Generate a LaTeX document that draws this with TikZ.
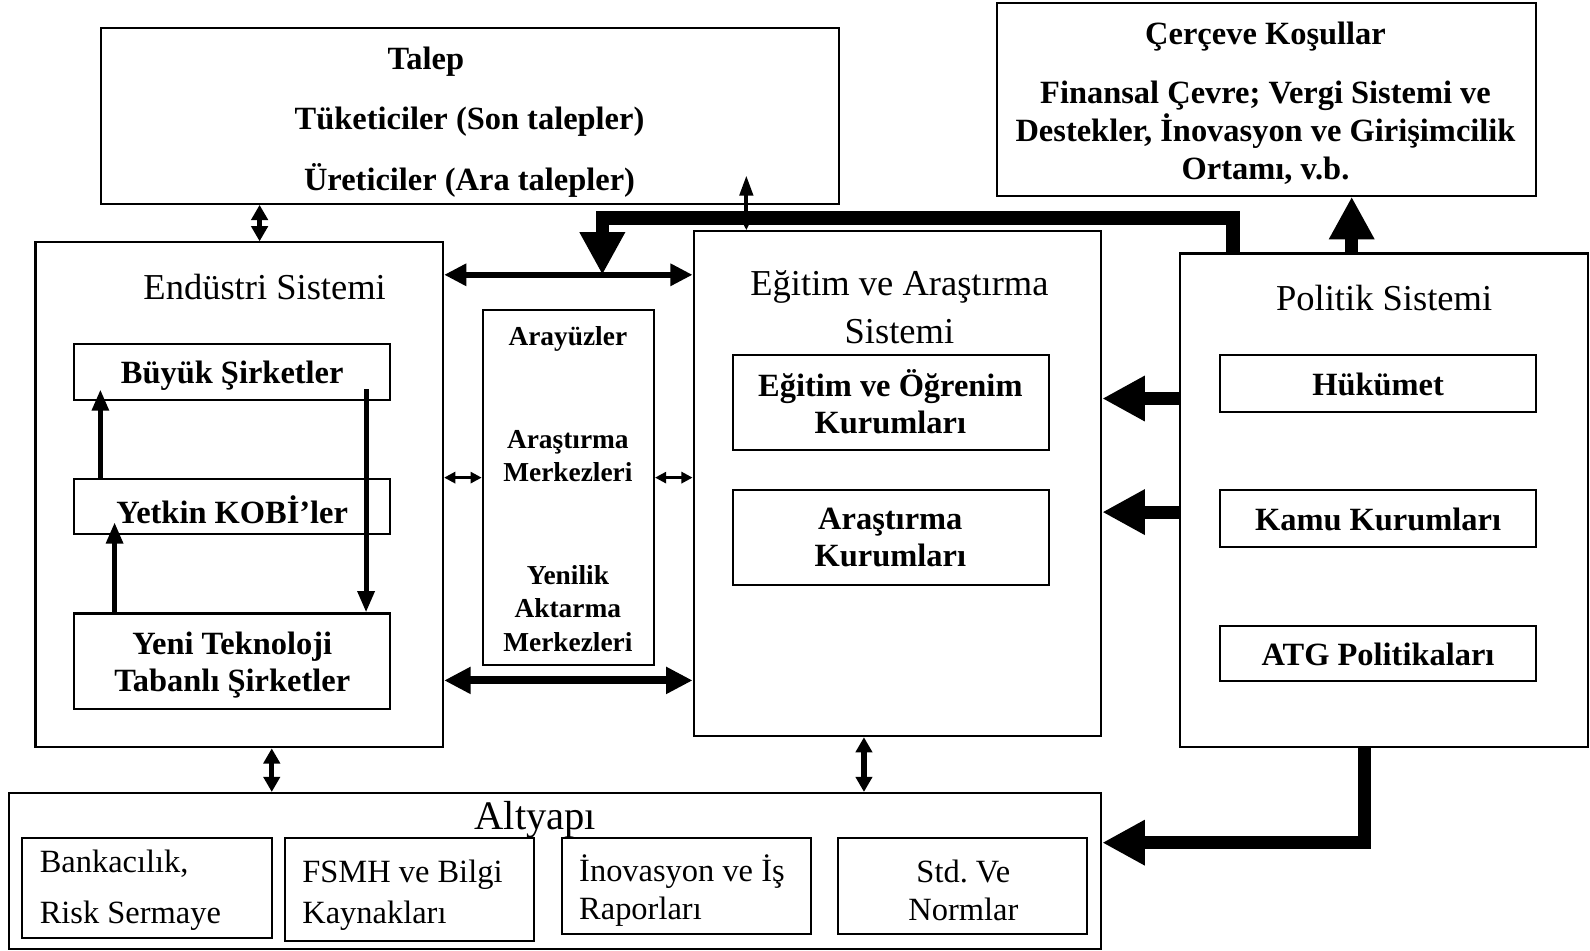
\documentclass[tikz,border=0pt]{standalone}
\usepackage{fontspec}
\setmainfont{Liberation Serif}
\usetikzlibrary{arrows.meta,fit}
\begin{document}
\begin{tikzpicture}[x=1pt,y=-1pt,
  box/.style={draw, line width=2pt, inner sep=0pt},
  bt/.style={font=\fontsize{32}{37}\selectfont\bfseries, align=center, inner sep=0pt, yshift=-3pt},
  bts/.style={font=\fontsize{27}{33}\selectfont\bfseries, align=center, inner sep=0pt, yshift=-2pt},
  rt/.style={font=\fontsize{36}{48}\selectfont, align=center, inner sep=0pt},
  rs/.style={font=\fontsize{32}{38}\selectfont, inner sep=0pt, yshift=-3pt},
  midarrow/.style={line width=5pt, -{Triangle[length=21pt,width=16pt]}},
  dblarrow/.style={line width=5pt, {Triangle[length=15pt,width=16pt]}-{Triangle[length=15pt,width=16pt]}},
  dblthin/.style={line width=4pt, {Triangle[length=20pt,width=13pt]}-{Triangle[length=12pt,width=11pt]}},
  dbltop/.style={line width=6.5pt, {Triangle[length=22pt,width=21pt]}-{Triangle[length=22pt,width=21pt]}},
  dblsmall/.style={line width=2.5pt, {Triangle[length=11pt,width=11pt]}-{Triangle[length=11pt,width=11pt]}},
  dblbig/.style={line width=8pt, {Triangle[length=26pt,width=25pt]}-{Triangle[length=26pt,width=25pt]}},
  bigarrow/.style={line width=13pt, line join=miter, -{Triangle[length=42pt,width=42pt]}}
]
\useasboundingbox (0,0) rectangle (1568,937);

% boxes
\node[box, fit={(100,28)(827,201)}] (talep) {};
\node[box, fit={(983,3)(1515,193)}] (cerceve) {};
\node[box, fit={(35,239)(437,737)}] (endustri) {};
\node[box, fit={(73,339)(385,394)}] (buyuk) {};
\node[box, fit={(73,472)(385,527)}] (yetkin) {};
\node[box, fit={(73,605)(385,699)}] (yeni) {};
\node[box, fit={(476,306)(645,656)}] (arayuz) {};
\node[box, fit={(684,228)(1086,726)}] (egitim) {};
\node[box, fit={(723,350)(1034,444)}] (egog) {};
\node[box, fit={(723,483)(1034,577)}] (arkur) {};
\node[box, fit={(1164,250)(1566,737)}] (politik) {};
\node[box, fit={(1203,350)(1515,406)}] (hukumet) {};
\node[box, fit={(1203,483)(1515,539)}] (kamu) {};
\node[box, fit={(1203,617)(1515,672)}] (atg) {};
\node[box, fit={(9,782)(1086,936)}] (altyapi) {};
\node[box, fit={(22,826)(268,925)}] (bank) {};
\node[box, fit={(281,826)(527,928)}] (fsmh) {};
\node[box, fit={(554,826)(800,921)}] (inov) {};
\node[box, fit={(826,826)(1072,921)}] (std) {};

% texts
\node[bt] (tTalep) at (420,58) {Talep};
\node[bt] (tTuk) at (463,117) {Tüketiciler (Son talepler)};
\node[bt] (tUre) at (463,175) {Üreticiler (Ara talepler)};
\node[bt] (tCer) at (1248,33) {Çerçeve Koşullar};
\node[bt, font=\fontsize{32}{37.5}\selectfont\bfseries] (tFin) at (1248,128) {Finansal Çevre; Vergi Sistemi ve\\Destekler, İnovasyon ve Girişimcilik\\Ortamı, v.b.};
\node[rt] (tEnd) at (261,283) {Endüstri Sistemi};
\node[bt] (tBuy) at (229,368) {Büyük Şirketler};
\node[bt] (tYet) at (229,500) {Yetkin KOBİ’ler};
\node[bt] (tYeni) at (229,653) {Yeni Teknoloji\\Tabanlı Şirketler};
\node[bts] (tAra) at (560,332) {Arayüzler};
\node[bts] (tArM) at (560,448) {Araştırma\\Merkezleri};
\node[bts] (tYen) at (560,598) {Yenilik\\Aktarma\\Merkezleri};
\node[rt] (tEgi) at (887,303) {Eğitim ve Araştırma\\Sistemi};
\node[bt] (tEgO) at (878,393) {Eğitim ve Öğrenim\\Kurumları};
\node[bt] (tArK) at (878,527) {Araştırma\\Kurumları};
\node[rt] (tPol) at (1365,294) {Politik Sistemi};
\node[bt] (tHuk) at (1359,376) {Hükümet};
\node[bt] (tKam) at (1359,509) {Kamu Kurumları};
\node[bt] (tAtg) at (1359,642) {ATG Politikaları};
\node[rt, font=\fontsize{40}{48}\selectfont, yshift=-3pt] (tAlt) at (528,805) {Altyapı};
\node[rs, align=left, anchor=west, font=\fontsize{32}{50}\selectfont] (tBan) at (39,875) {Bankacılık,\\Risk Sermaye};
\node[rs, align=left, anchor=west, font=\fontsize{32}{40}\selectfont] (tFsm) at (298,880) {FSMH ve Bilgi\\Kaynakları};
\node[rs, align=left, anchor=west] (tIno) at (571,875) {İnovasyon ve İş\\Raporları};
\node[rs, align=center] (tStd) at (950,875) {Std.\ Ve\\Normlar};

% helper coordinates
\coordinate (a1) at (99,384);
\coordinate (a2) at (113,515);
\coordinate (a3) at (361,384);
\coordinate (a4) at (256,0);
\coordinate (a5) at (736,173);
\coordinate (a6) at (0,271);
\coordinate (a7) at (0,471);
\coordinate (a8) at (0,671);
\coordinate (r1) at (1216,215);
\coordinate (jn) at (594,271);
\coordinate (a10) at (1333,0);
\coordinate (a11) at (0,393);
\coordinate (a12) at (0,505);
\coordinate (r2) at (1346,831);
\coordinate (a13) at (268,0);
\coordinate (a14) at (852,0);

% connectors
\draw[midarrow] (yetkin.north -| a1) -- (a1);
\draw[midarrow] (yeni.north -| a2) -- (a2);
\draw[midarrow] (a3) -- (yeni.north -| a3);
\draw[dblarrow] (talep.south -| a4) -- (endustri.north -| a4);
\draw[dblthin] (a5) -- (egitim.north -| a5);
\draw[dbltop] (endustri.east |- a6) -- (egitim.west |- a6);
\draw[dblsmall] (endustri.east |- a7) -- (arayuz.west |- a7);
\draw[dblsmall] (arayuz.east |- a7) -- (egitim.west |- a7);
\draw[dblbig] (endustri.east |- a8) -- (egitim.west |- a8);
\draw[bigarrow] (politik.north -| r1) -- (r1) -- (r1 -| jn) -- (jn);
\draw[bigarrow] (politik.north -| a10) -- (cerceve.south -| a10);
\draw[bigarrow] (politik.west |- a11) -- (egitim.east |- a11);
\draw[bigarrow] (politik.west |- a12) -- (egitim.east |- a12);
\draw[bigarrow] (politik.south -| r2) -- (r2) -- (altyapi.east |- r2);
\draw[dblarrow] (endustri.south -| a13) -- (altyapi.north -| a13);
\draw[dblarrow] (egitim.south -| a14) -- (altyapi.north -| a14);
\end{tikzpicture}
\end{document}
